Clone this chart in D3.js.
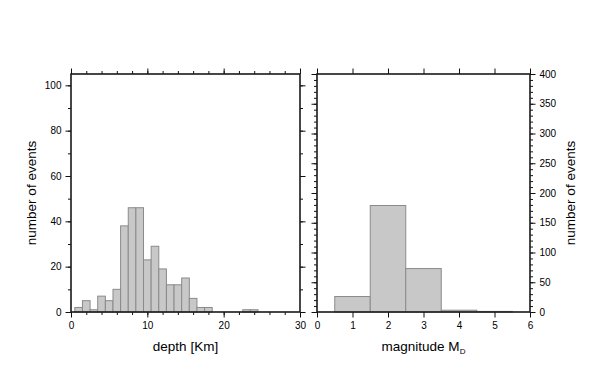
<!DOCTYPE html>
<html><head><meta charset="utf-8">
<script src="https://cdn.jsdelivr.net/npm/d3@7"></script>
<style>
body{margin:0;background:#fff}
svg text{font-family:"Liberation Sans",Arial,Helvetica,sans-serif}
</style>
</head><body>
<svg id="chart" width="602" height="383"></svg>
<script>
// ---- data ----
const depthBinStarts = [0.5,1.5,2.5,3.5,4.5,5.5,6.5,7.5,8.5,9.5,10.5,11.5,12.5,13.5,14.5,15.5,16.5,17.5,22.5,23.5];
const depthCounts    = [2,5,1,7,5,10,38,46,46,23,29,19,12,12,15,6,2,2,1,1];
const depthBinWidth = 1;
const depthMajorTicks = [0,10,20,30];
const depthMinorTicks = [0,2,4,6,8,10,12,14,16,18,20,22,24,26,28,30];
const depthCountMajor = [0,20,40,60,80,100];
const depthCountMinor = [0,10,20,30,40,50,60,70,80,90,100];

const magBinStarts = [0.5,1.5,2.5,3.5,4.5];
const magCounts    = [26,179,73,3,1];
const magBinWidth = 1;
const magTicks = [0,1,2,3,4,5,6];
const magCountMajor = [0,50,100,150,200,250,300,350,400];
const magCountMinor = [0,10,20,30,40,50,60,70,80,90,100,110,120,130,140,150,160,170,180,190,200,210,220,230,240,250,260,270,280,290,300,310,320,330,340,350,360,370,380,390,400];

const yLabel = "number of events";
const depthLabel = "depth [Km]";

// ---- layout ----
const svg = d3.select("#chart");
const yTop = 74, yBot = 312;
const L = {x0:71, x1:300}, R = {x0:317, x1:530};
const MAJ = 5.5, MIN = 3;

const xD = d3.scaleLinear().domain([0,30]).range([L.x0,L.x1]);
const yD = d3.scaleLinear().domain([0,105]).range([yBot,yTop]);
const xM = d3.scaleLinear().domain([0,6]).range([R.x0,R.x1]);
const yM = d3.scaleLinear().domain([0,400]).range([yBot,yTop]);

function styleAxis(g){
  g.select(".domain").remove();
  g.selectAll(".tick line").attr("stroke","#111").attr("stroke-width",1);
  g.selectAll(".tick text").attr("fill","#000")
   .style("font-family","'Liberation Sans',Arial,sans-serif").style("font-size","10px");
}
function addAxis(axis, tx, ty){
  const g = svg.append("g").attr("transform",`translate(${tx},${ty})`).call(axis);
  styleAxis(g); return g;
}
const noLab = () => "";

// bars
function bars(starts, counts, w, x, y){
  svg.append("g").selectAll("rect").data(starts.map((s,i)=>({s,c:counts[i]}))).join("rect")
    .attr("x",d=>x(d.s)).attr("width",d=>x(d.s+w)-x(d.s))
    .attr("y",d=>y(d.c)).attr("height",d=>y(0)-y(d.c))
    .attr("fill","#c8c8c8").attr("stroke","#8a8a8a").attr("stroke-width",1);
}
bars(depthBinStarts, depthCounts, depthBinWidth, xD, yD);
bars(magBinStarts, magCounts, magBinWidth, xM, yM);

// left panel axes
addAxis(d3.axisBottom(xD).tickValues(depthMinorTicks).tickSize(MIN).tickFormat(noLab),0,yBot);
addAxis(d3.axisBottom(xD).tickValues(depthMajorTicks).tickSize(MAJ).tickPadding(4).tickFormat(d3.format("d")),0,yBot);
addAxis(d3.axisTop(xD).tickValues(depthMinorTicks).tickSize(MIN).tickFormat(noLab),0,yTop);
addAxis(d3.axisTop(xD).tickValues(depthMajorTicks).tickSize(MAJ).tickFormat(noLab),0,yTop);
addAxis(d3.axisLeft(yD).tickValues(depthCountMinor).tickSize(MIN).tickFormat(noLab),L.x0,0);
addAxis(d3.axisLeft(yD).tickValues(depthCountMajor).tickSize(MAJ).tickPadding(4).tickFormat(d3.format("d")),L.x0,0);
addAxis(d3.axisRight(yD).tickValues(depthCountMinor).tickSize(MIN).tickFormat(noLab),L.x1,0);
addAxis(d3.axisRight(yD).tickValues(depthCountMajor).tickSize(MAJ).tickFormat(noLab),L.x1,0);

// right panel axes
addAxis(d3.axisBottom(xM).tickValues(magTicks).tickSize(MAJ).tickPadding(4).tickFormat(d3.format("d")),0,yBot);
addAxis(d3.axisTop(xM).tickValues(magTicks).tickSize(MAJ).tickFormat(noLab),0,yTop);
addAxis(d3.axisLeft(yM).tickValues(magCountMinor).tickSize(MIN).tickFormat(noLab),R.x0,0);
addAxis(d3.axisLeft(yM).tickValues(magCountMajor).tickSize(MAJ).tickFormat(noLab),R.x0,0);
addAxis(d3.axisRight(yM).tickValues(magCountMinor).tickSize(MIN).tickFormat(noLab),R.x1,0);
addAxis(d3.axisRight(yM).tickValues(magCountMajor).tickSize(MAJ).tickPadding(4).tickFormat(d3.format("d")),R.x1,0);

// frames
[[L.x0,L.x1],[R.x0,R.x1]].forEach(([a,b])=>{
  svg.append("rect").attr("x",a).attr("y",yTop).attr("width",b-a).attr("height",yBot-yTop)
    .attr("fill","none").attr("stroke","#1a1a1a").attr("stroke-width",1.6);
});

// titles
const tf = 13.5;
svg.append("text").attr("x",(L.x0+L.x1)/2).attr("y",351).attr("text-anchor","middle")
  .style("font-size",tf+"px").text(depthLabel);
const mt = svg.append("text").attr("x",(R.x0+R.x1)/2).attr("y",351).attr("text-anchor","middle")
  .style("font-size",tf+"px");
mt.append("tspan").text("magnitude M");
mt.append("tspan").attr("dy",3).style("font-size","8px").text("D");

svg.append("text").attr("transform",`translate(36,${(yTop+yBot)/2}) rotate(-90)`)
  .attr("text-anchor","middle").style("font-size",tf+"px").text(yLabel);
svg.append("text").attr("transform",`translate(575,${(yTop+yBot)/2}) rotate(-90)`)
  .attr("text-anchor","middle").style("font-size",tf+"px").text(yLabel);
</script>
</body></html>
